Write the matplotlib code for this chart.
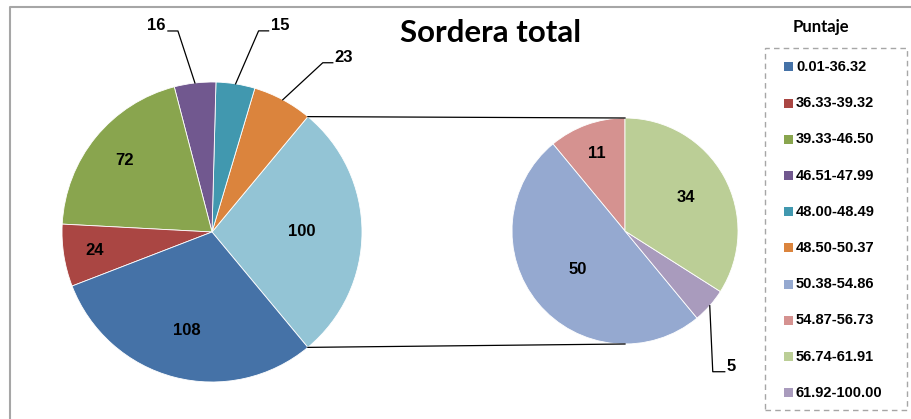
import numpy as np
import matplotlib.pyplot as plt
from matplotlib.patches import Rectangle

W, H = 911, 419

# main pie, counter-clockwise starting with the "other" slice on the right
main_values = [100, 23, 15, 16, 72, 24, 108]
main_colors = ['#93C4D5', '#DB843D', '#4198AF', '#71588F', '#89A54E', '#AA4643', '#4572A7']
# secondary pie (breakdown of the 100 slice), counter-clockwise from 12 o'clock
sub_values = [11, 50, 5, 34]
sub_colors = ['#D59290', '#95A9D0', '#A99BBD', '#BBCE96']

legend_labels = ['0.01-36.32', '36.33-39.32', '39.33-46.50', '46.51-47.99', '48.00-48.49',
                 '48.50-50.37', '50.38-54.86', '54.87-56.73', '56.74-61.91', '61.92-100.00']
legend_colors = ['#4572A7', '#AA4643', '#89A54E', '#71588F', '#4198AF',
                 '#DB843D', '#95A9D0', '#D59290', '#BBCE96', '#A99BBD']

title = 'Sordera total'
legend_title = 'Puntaje'

# label layout: a float = inside at that fraction of the radius,
# a tuple = outside with leader (elbow dx, elbow dy, tail length)
main_layout = [0.6, (40, 37, 10), (23, 53, 10), (-17, 52, -10), 0.75, 0.79, 0.68]
sub_layout = [0.73, 0.54, (3, -66, 12), 0.61]

main_c, main_r = (212, H - 232), 150
sub_c, sub_r = (625, H - 231), 113

fig = plt.figure(figsize=(W / 100, H / 100), dpi=100)
ax = fig.add_axes([0, 0, 1, 1])

lbl_font = dict(family='Liberation Sans', fontweight='bold', fontsize=12, color='black')


def draw_pie(values, colors, center, radius, start, layout):
    wedges, _ = ax.pie(values, colors=colors, center=center, radius=radius,
                       startangle=start, counterclock=True,
                       wedgeprops=dict(edgecolor='white', linewidth=0.6))
    for w, v, lay in zip(wedges, values, layout):
        mid = np.deg2rad((w.theta1 + w.theta2) / 2)
        if isinstance(lay, float):
            x = center[0] + lay * radius * np.cos(mid)
            y = center[1] + lay * radius * np.sin(mid)
            ax.text(x, y, str(v), ha='center', va='center', **lbl_font)
        else:
            ex = center[0] + radius * np.cos(mid)
            ey = center[1] + radius * np.sin(mid)
            kx, ky = ex + lay[0], ey + lay[1]
            tx = kx + lay[2]
            ax.plot([ex, kx, tx], [ey, ky, ky], color='black', lw=0.9)
            ha = 'left' if lay[2] > 0 else 'right'
            ax.text(tx + np.sign(lay[2]) * 2, ky + 1, str(v), ha=ha, va='baseline', **lbl_font)
    return wedges


main_start = -main_values[0] / sum(main_values) * 180
mw = draw_pie(main_values, main_colors, main_c, main_r, main_start, main_layout)
draw_pie(sub_values, sub_colors, sub_c, sub_r, 90, sub_layout)

# connector lines from the "other" slice to the secondary pie
other = mw[0]
for ang, sy in [(other.theta2, sub_c[1] + sub_r), (other.theta1, sub_c[1] - sub_r)]:
    a = np.deg2rad(ang)
    ax.plot([main_c[0] + main_r * np.cos(a), sub_c[0]],
            [main_c[1] + main_r * np.sin(a), sy], color='black', lw=0.9)

# chart area border
ax.plot([10, 10, W], [0, H - 7, H - 7], color='#A6A6A6', lw=1.5)

ax.text(491, H - 33, title, ha='center', va='center',
        family='Lato', fontweight='bold', fontsize=22.5)
ax.text(821, H - 27, legend_title, ha='center', va='center',
        family='Lato', fontweight='bold', fontsize=12)

# legend box
ax.add_patch(Rectangle((765, H - 410), 142, 362, fill=False,
                       edgecolor='#A6A6A6', lw=1, linestyle=(0, (4, 3))))
for i, (lab, col) in enumerate(zip(legend_labels, legend_colors)):
    y = H - (67 + i * 36.2)
    ax.add_patch(Rectangle((784, y - 4.5), 9, 9, facecolor=col, edgecolor='none'))
    ax.text(796, y, lab, ha='left', va='center', family='Liberation Sans',
            fontweight='bold', fontsize=10.5)

ax.set_xlim(0, W)
ax.set_ylim(0, H)
ax.set_aspect('equal')
ax.axis('off')

fig.savefig('out.png', dpi=100, facecolor='white')
